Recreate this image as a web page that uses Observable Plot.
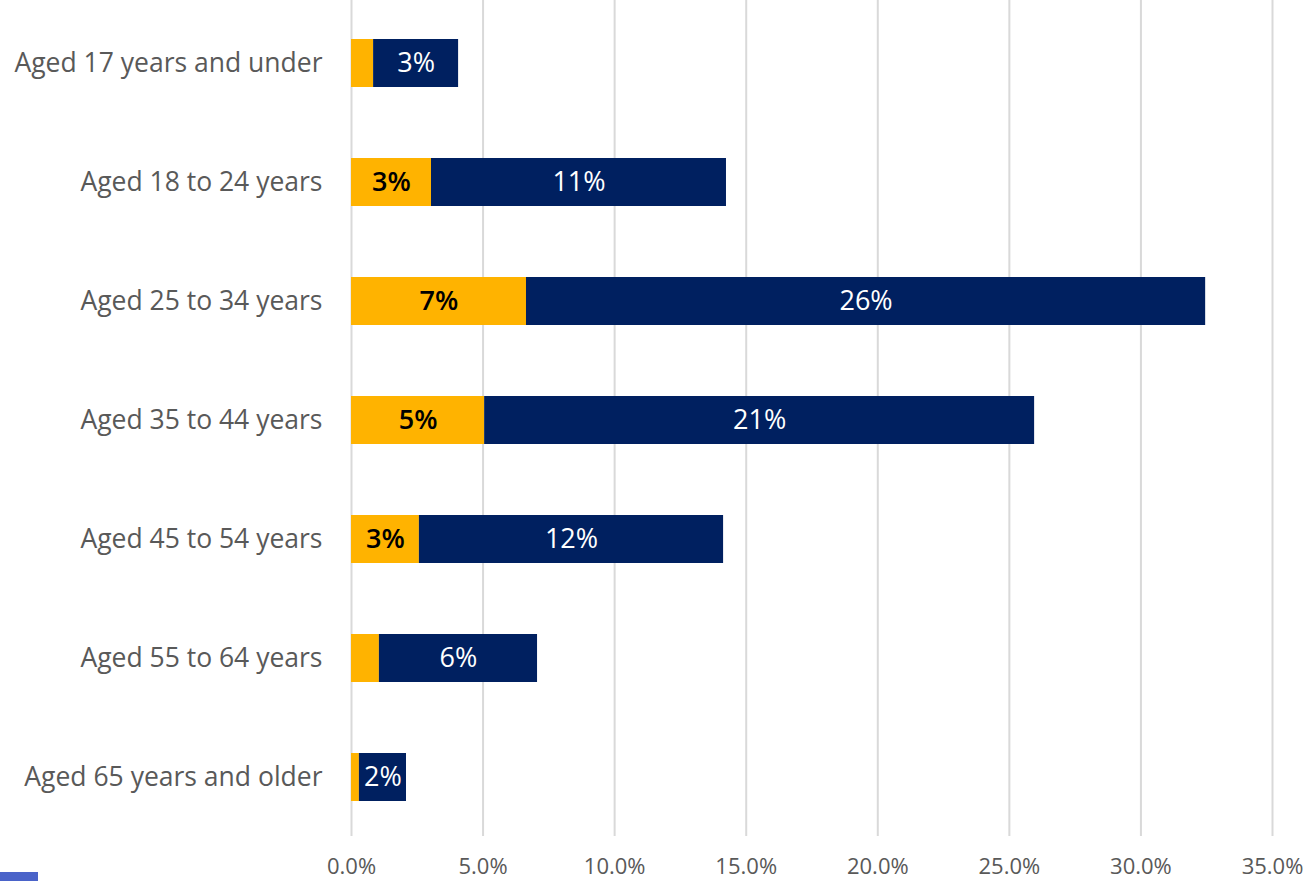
<!DOCTYPE html>
<html>
<head>
<meta charset="utf-8">
<script src="https://cdn.jsdelivr.net/npm/d3@7"></script>
<script src="https://cdn.jsdelivr.net/npm/@observablehq/plot@0.6"></script>
<style>
  html, body { margin: 0; padding: 0; background: #fff; }
  #chart { position: relative; width: 1309px; height: 881px; }
  #marker { position: absolute; left: 0; top: 872px; width: 38px; height: 9px; background: #4a63c9; }
</style>
</head>
<body>
<div id="chart"><div id="marker"></div></div>
<script>
const categories = [
  "Aged 17 years and under",
  "Aged 18 to 24 years",
  "Aged 25 to 34 years",
  "Aged 35 to 44 years",
  "Aged 45 to 54 years",
  "Aged 55 to 64 years",
  "Aged 65 years and older"
];
const seriesNames = ["Series 1", "Series 2"];
const series1Values = [0.84, 3.04, 6.65, 5.06, 2.58, 1.06, 0.30];
const series2Values = [3.23, 11.21, 25.81, 20.90, 11.56, 6.01, 1.79];
const xTicks = [0, 5, 10, 15, 20, 25, 30, 35];
const colors = ["#FFB300", "#002060"];

const data = [];
categories.forEach((c, i) => {
  data.push({category: c, series: seriesNames[0], value: series1Values[i]});
  data.push({category: c, series: seriesNames[1], value: series2Values[i]});
});
const labelFor = d => Math.round(d.value) + "%";
const labelIf = (name, min) => d => (d.series === name && d.value >= min) ? labelFor(d) : null;

const font = "'Open Sans', 'Noto Sans', sans-serif";
const chart = Plot.plot({
  width: 1309,
  height: 881,
  marginLeft: 351,
  marginRight: 37,
  marginTop: 3,
  marginBottom: 45,
  style: {fontFamily: font, background: "transparent"},
  x: {domain: [0, 35], ticks: xTicks, tickFormat: d => d.toFixed(1) + "%", label: null},
  y: {domain: categories, label: null, paddingInner: 0.6, paddingOuter: 0.3},
  color: {domain: seriesNames, range: colors},
  marks: [
    Plot.ruleX(xTicks, {stroke: "#d9d9d9", strokeWidth: 2, insetTop: -3}),
    Plot.barX(data, Plot.stackX({x: "value", y: "category", fill: "series", order: seriesNames})),
    Plot.textX(data, Plot.stackX({
      x: "value", y: "category", z: "series", order: seriesNames,
      text: labelIf(seriesNames[0], 2.5), fill: "#000", fontSize: 27, fontWeight: 600
    })),
    Plot.textX(data, Plot.stackX({
      x: "value", y: "category", z: "series", order: seriesNames,
      text: labelIf(seriesNames[1], 0), fill: "#fff", fontSize: 27
    })),
    Plot.axisX({ticks: xTicks, tickFormat: d => d.toFixed(1) + "%", tickSize: 0, tickPadding: 22, fontSize: 22, fill: "#595959", label: null}),
    Plot.axisY({tickSize: 0, tickPadding: 29, fontSize: 26.5, fill: "#595959", label: null})
  ]
});
document.getElementById("chart").prepend(chart);
</script>
</body>
</html>
